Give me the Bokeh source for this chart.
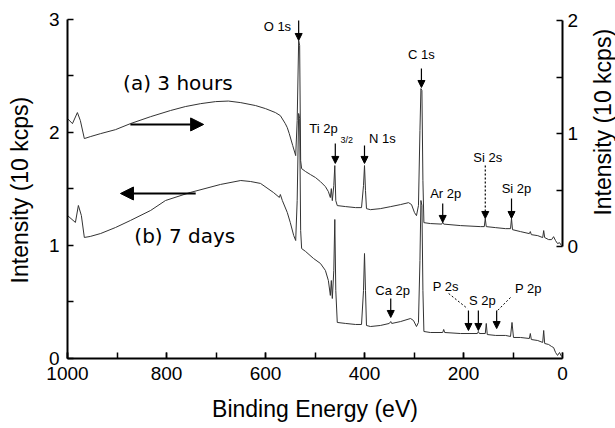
import numpy as np
from bokeh.plotting import figure
from bokeh.layouts import row
from bokeh.models import (Range1d, LinearAxis, Label, Arrow, NormalHead,
                          FixedTicker)
from bokeh.embed import file_html
from bokeh.resources import INLINE

# ---------------- data ----------------
# (a) 3 hours : plotted on right axis (10 kcps)
be_a = [1000, 990, 980, 974, 966, 954, 933, 903, 873, 832, 792, 762, 731, 701,
        675, 650, 620, 600, 580, 570, 560, 556, 552, 545, 539, 536, 533, 531,
        529, 527, 519, 509, 499, 489, 479, 473, 469, 467, 465, 462, 460, 458,
        455, 438, 418, 406, 402, 400, 398, 396, 388, 368, 347, 327, 311, 305,
        299, 295, 291, 288, 286, 284, 282, 280, 267, 244, 242, 240, 206, 166,
        158, 156, 154, 135, 115, 105, 103, 101, 85, 67, 65, 63, 50, 40, 38, 36,
        28, 22, 18, 14, 10, 6, 2]
int_a = [1.133, 1.088, 1.186, 1.115, 0.956, 0.973, 1.000, 1.035, 1.088, 1.150,
         1.204, 1.239, 1.265, 1.283, 1.288, 1.274, 1.248, 1.221, 1.186, 1.159,
         1.088, 1.053, 1.000, 0.894, 0.805, 1.115, 1.823, 1.779, 0.761, 0.690,
         0.664, 0.637, 0.611, 0.575, 0.531, 0.487, 0.434, 0.513, 0.407, 0.540,
         0.717, 0.407, 0.363, 0.354, 0.345, 0.345, 0.540, 0.717, 0.496, 0.336,
         0.327, 0.336, 0.354, 0.372, 0.389, 0.372, 0.301, 0.274, 0.363, 1.027,
         1.398, 1.381, 0.584, 0.212, 0.204, 0.199, 0.215, 0.199, 0.186, 0.177,
         0.177, 0.248, 0.177, 0.168, 0.159, 0.159, 0.248, 0.150, 0.133, 0.115,
         0.133, 0.106, 0.097, 0.080, 0.142, 0.080, 0.062, 0.062, 0.088, 0.053,
         0.027, 0.035, 0.009]

# (b) 7 days : plotted on left axis (10 kcps)
be_b = [1000, 984, 978, 972, 966, 954, 933, 903, 873, 832, 802, 752, 691, 650,
        630, 610, 584, 572, 570, 566, 556, 550, 543, 539, 536, 533, 531, 529,
        527, 519, 503, 489, 479, 473, 469, 467, 465, 462, 460, 458, 455, 438,
        418, 406, 402, 400, 398, 396, 388, 368, 350, 347, 345, 327, 307, 301,
        295, 291, 288, 286, 284, 282, 280, 267, 242, 240, 238, 206, 172, 170,
        168, 156, 154, 152, 135, 115, 105, 102, 99, 85, 67, 65, 63, 50, 40, 38,
        36, 28, 22, 18, 14, 10, 6, 2]
int_b = [1.265, 1.204, 1.354, 1.265, 1.071, 1.080, 1.106, 1.159, 1.221, 1.310,
         1.398, 1.469, 1.540, 1.575, 1.566, 1.549, 1.469, 1.425, 1.451, 1.398,
         1.292, 1.204, 1.088, 1.044, 1.398, 2.168, 2.124, 1.133, 0.973, 0.947,
         0.885, 0.841, 0.779, 0.690, 0.558, 0.690, 0.531, 0.779, 1.230, 0.602,
         0.319, 0.310, 0.301, 0.301, 0.602, 0.929, 0.602, 0.292, 0.283, 0.292,
         0.310, 0.327, 0.310, 0.327, 0.354, 0.336, 0.283, 0.319, 0.867, 1.398,
         1.354, 0.602, 0.239, 0.230, 0.230, 0.257, 0.230, 0.221, 0.221, 0.239,
         0.221, 0.221, 0.310, 0.212, 0.204, 0.204, 0.195, 0.319, 0.186, 0.186,
         0.177, 0.221, 0.168, 0.159, 0.142, 0.248, 0.133, 0.124, 0.106, 0.097,
         0.053, 0.027, 0.053, 0.018]

x_ticks = [1000, 800, 600, 400, 200, 0]
left_ticks = [0, 1, 2, 3]
right_ticks = [0, 1, 2]

# peak annotations: label, label x (eV), label y, arrow x (eV), arrow y start, arrow y end (left-axis units)
peak_names = ["O 1s", "C 1s", "N 1s", "Ar 2p", "Si 2p", "Ca 2p", "P 2s", "S 2p", "P 2p"]
peak_label_x = [576, 285, 364, 236, 93, 343, 236, 162, 69]
peak_label_y = [2.938, 2.690, 1.947, 1.460, 1.504, 0.602, 0.637, 0.513, 0.619]
arrow_x = [533, 285, 400, 242, 103, 347, 190, 170, 133]
arrow_y0 = [2.99, 2.566, 1.885, 1.372, 1.416, 0.531, 0.425, 0.425, 0.425]
arrow_y1 = [2.814, 2.398, 1.726, 1.204, 1.239, 0.363, 0.248, 0.248, 0.265]

FONT = "Liberation Sans"
NB = "\u00a0"

p = figure(width=585, height=428, x_range=Range1d(1000, 0), y_range=Range1d(0, 3.15),
           output_backend="svg", toolbar_location=None,
           min_border_left=67, min_border_right=23, min_border_top=2, min_border_bottom=70)
p.extra_y_ranges = {"right": Range1d(-0.99, 2.16)}
p.outline_line_color = None
p.grid.visible = False
p.background_fill_color = "white"
p.border_fill_color = "white"

def style_axis(ax):
    ax.axis_line_width = 2
    ax.axis_line_color = "black"
    ax.major_tick_line_width = 1.5
    ax.minor_tick_line_width = 1.5
    ax.major_tick_line_color = "black"
    ax.minor_tick_line_color = "black"
    ax.major_tick_in = 6
    ax.major_tick_out = 0
    ax.minor_tick_in = 6
    ax.minor_tick_out = 0
    ax.major_label_text_font = FONT
    ax.major_label_text_font_size = "19px"
    ax.major_label_text_color = "black"
    ax.axis_label_text_font = FONT
    ax.axis_label_text_font_size = "23px"
    ax.axis_label_text_font_style = "normal"
    ax.axis_label_text_color = "black"

xa = p.xaxis[0]
style_axis(xa)
xa.ticker = FixedTicker(ticks=x_ticks, minor_ticks=list(range(0, 1001, 100)))
xa.bounds = (0, 1000)
xa.major_label_standoff = 8
xa.axis_label = "Binding Energy (eV)"
xa.axis_label_standoff = 13

ya = p.yaxis[0]
style_axis(ya)
ya.ticker = FixedTicker(ticks=left_ticks, minor_ticks=[0.5, 1.5, 2.5])
ya.bounds = (0, 3)
ya.major_label_standoff = 8
ya.axis_label = "Intensity (10 kcps)" + NB * 3
ya.axis_label_standoff = 13

ra = LinearAxis(y_range_name="right")
style_axis(ra)
ra.ticker = FixedTicker(ticks=right_ticks, minor_ticks=[0.5, 1.5])
ra.bounds = (0, 2)
ra.major_label_standoff = 5
p.add_layout(ra, "right")

line_col = "#333333"
p.line(be_b, int_b, line_color=line_col, line_width=1)
p.line(be_a, int_a, line_color=line_col, line_width=1, y_range_name="right")

head = dict(fill_color="black", line_color="black")

# peak labels + arrows
for name, lx, ly in zip(peak_names, peak_label_x, peak_label_y):
    p.add_layout(Label(x=lx, y=ly, text=name, text_font=FONT, text_font_size="13px",
                       text_align="center", text_baseline="middle", text_color="black"))
for ax_, y0, y1 in zip(arrow_x, arrow_y0, arrow_y1):
    p.add_layout(Arrow(x_start=ax_, y_start=y0, x_end=ax_, y_end=y1, line_width=1.2,
                       line_color="black", end=NormalHead(size=7, **head)))

# Ti 2p3/2
p.add_layout(Label(x=483, y=2.035, text="Ti 2p", text_font=FONT, text_font_size="13px",
                   text_align="center", text_baseline="middle", text_color="black"))
p.add_layout(Label(x=436, y=1.929, text="3/2", text_font=FONT, text_font_size="9px",
                   text_align="center", text_baseline="middle", text_color="black"))
p.add_layout(Arrow(x_start=459, y_start=1.903, x_end=459, y_end=1.726, line_width=1.2,
                   end=NormalHead(size=7, **head)))

# Si 2s (dotted arrow)
p.add_layout(Label(x=151, y=1.779, text="Si 2s", text_font=FONT, text_font_size="13px",
                   text_align="center", text_baseline="middle", text_color="black"))
p.add_layout(Arrow(x_start=156, y_start=1.708, x_end=156, y_end=1.239, line_width=1.2,
                   line_dash="2 2", end=NormalHead(size=7, line_dash="solid", **head)))

# dashed leader lines for P 2s / P 2p
p.segment(x0=[230, 105], y0=[0.575, 0.540], x1=[192, 131], y1=[0.442, 0.425],
          line_color="black", line_width=1, line_dash="2 2")

# sample labels and direction arrows
p.add_layout(Label(x=777, y=2.442, text="(a) 3 hours", text_font="DejaVu Sans",
                   text_font_size="20px", text_align="center", text_baseline="middle",
                   text_color="black"))
p.add_layout(Label(x=763, y=1.080, text="(b) 7 days", text_font="DejaVu Sans",
                   text_font_size="20px", text_align="center", text_baseline="middle",
                   text_color="black"))
p.add_layout(Arrow(x_start=873, y_start=2.071, x_end=725, y_end=2.071, line_width=2,
                   end=NormalHead(size=13, **head)))
p.add_layout(Arrow(x_start=741, y_start=1.460, x_end=893, y_end=1.460, line_width=2,
                   end=NormalHead(size=13, **head)))

# thin side panel carrying the right-hand axis title (reads bottom to top)
p2 = figure(width=30, height=428, x_range=Range1d(0, 30), y_range=Range1d(0, 428),
            output_backend="svg", toolbar_location=None,
            x_axis_location=None, y_axis_location=None,
            min_border=0)
p2.outline_line_color = None
p2.grid.visible = False
p2.background_fill_color = "white"
p2.border_fill_color = "white"
p2.add_layout(Label(x=17, y=284, text="Intensity (10 kcps)", text_font=FONT,
                    text_font_size="23px", angle=np.pi / 2, text_align="center",
                    text_baseline="middle", text_color="black"))

layout = row(p, p2, spacing=0)
open("out.html", "w").write(file_html(layout, INLINE))
